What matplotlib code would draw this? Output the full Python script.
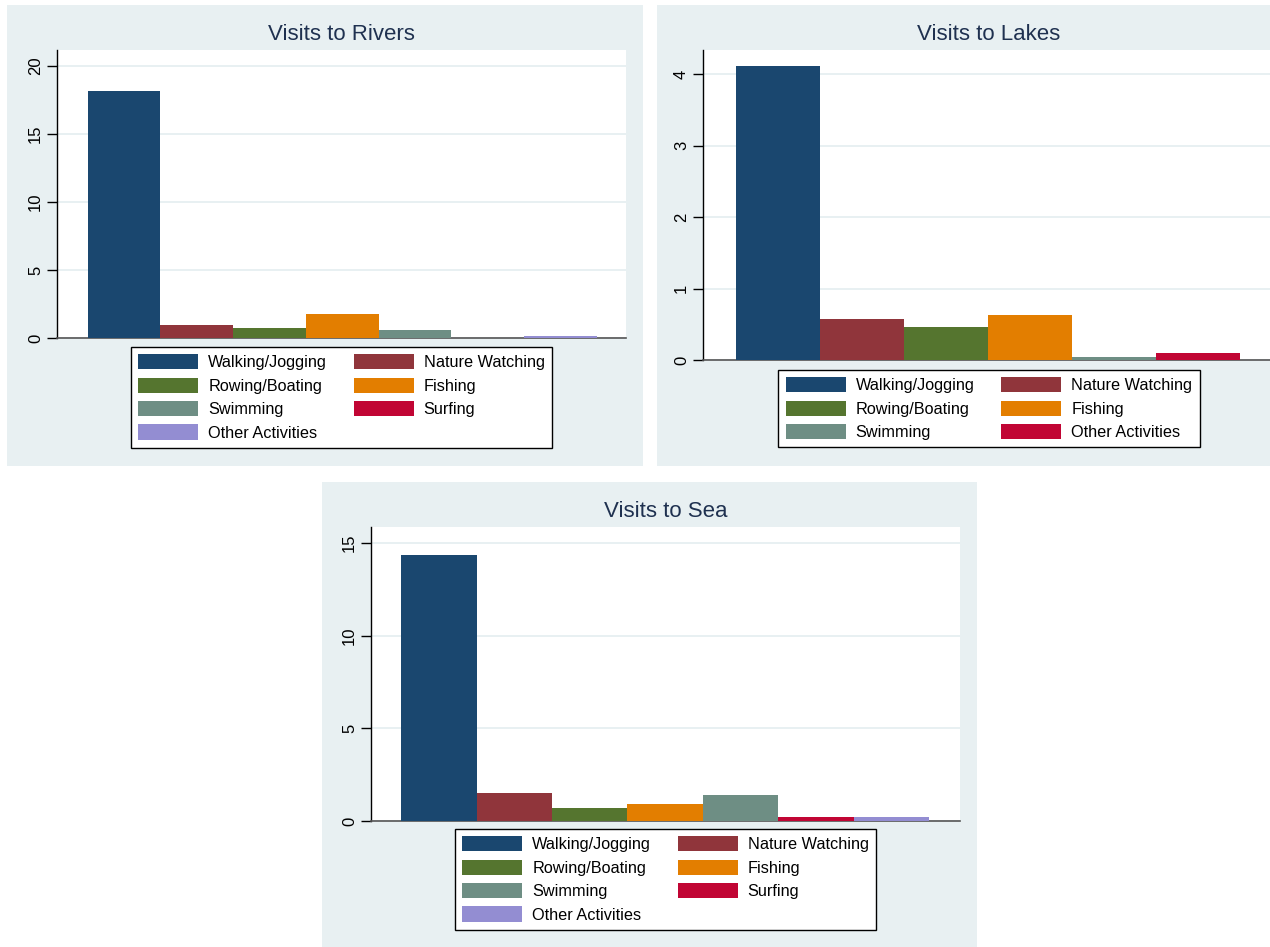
import numpy as np
from matplotlib import pyplot as plt
from matplotlib.patches import Rectangle, Patch

plt.rcParams['font.family'] = ['Liberation Sans', 'DejaVu Sans']

W, H = 1270, 947

river_labels = ["Walking/Jogging", "Nature Watching", "Rowing/Boating", "Fishing",
                "Swimming", "Surfing", "Other Activities"]
river_vals = [18.18, 0.95, 0.76, 1.74, 0.61, 0.02, 0.12]

lake_labels = ["Walking/Jogging", "Nature Watching", "Rowing/Boating", "Fishing",
               "Swimming", "Other Activities"]
lake_vals = [4.11, 0.57, 0.46, 0.63, 0.04, 0.10]

sea_labels = ["Walking/Jogging", "Nature Watching", "Rowing/Boating", "Fishing",
              "Swimming", "Surfing", "Other Activities"]
sea_vals = [14.35, 1.49, 0.70, 0.90, 1.40, 0.20, 0.20]

# stata s2color palette
colors = ["#1a476f", "#90353b", "#55752f", "#e37e00", "#6e8e84", "#c10534", "#938dd2"]

bg = "#e8f0f2"
grid = "#e4eef0"
title_col = "#1f3150"

fig = plt.figure(figsize=(W / 100, H / 100), dpi=100)
fig.patch.set_facecolor("white")


def panel(l, t, r, b):
    fig.patches.append(Rectangle((l / W, 1 - b / H), (r - l) / W, (b - t) / H,
                                 transform=fig.transFigure, facecolor=bg,
                                 edgecolor="none", zorder=-5))


def draw(title, labels, vals, box, ylim, yticks, gap, leg_top, title_y):
    l, t, r, b = box
    ax = fig.add_axes([l / W, 1 - b / H, (r - l) / W, (b - t) / H])
    n = len(vals)
    x = np.arange(n)
    cols = colors[:n - 1] + ([colors[6]] if n == 7 else [colors[5]])
    ax.bar(x, vals, width=1.0, color=cols, linewidth=0, zorder=3)
    ax.set_xlim(-0.5 - gap[0], n - 0.5 + gap[1])
    ax.set_ylim(0, ylim)
    ax.set_yticks(yticks)
    ax.set_xticks([])
    ax.yaxis.grid(True, color=grid, linewidth=1.2, zorder=0)
    for s in ["top", "right"]:
        ax.spines[s].set_visible(False)
    ax.spines["left"].set_color("black")
    ax.spines["left"].set_linewidth(1)
    ax.spines["bottom"].set_color("#555555")
    ax.spines["bottom"].set_linewidth(1.2)
    ax.tick_params(axis="y", length=7, width=1, labelsize=12, pad=3)
    plt.setp(ax.get_yticklabels(), rotation=90, va="center")
    fig.text((l + r) / 2 / W, 1 - title_y / H, title, ha="center", va="center",
             fontsize=16, color=title_col)

    # stata fills legend rows first, matplotlib columns first
    order = list(range(0, n, 2)) + list(range(1, n, 2))
    handles = [Patch(facecolor=cols[i], edgecolor="none") for i in order]
    leg = ax.legend(handles, [labels[i] for i in order], loc="upper center",
                    bbox_to_anchor=((l + r) / 2 / W, 1 - leg_top / H),
                    bbox_transform=fig.transFigure, ncol=2, frameon=True,
                    fancybox=False, edgecolor="black", facecolor="white",
                    framealpha=1, fontsize=11.7,
                    handlelength=3.7, handleheight=1.05, labelspacing=0.45,
                    columnspacing=1.65, handletextpad=0.6, borderpad=0.45,
                    borderaxespad=0)
    leg.get_frame().set_linewidth(1)
    return ax


panel(7, 5, 643, 466)
panel(657, 5, 1290, 466)
panel(322, 482, 977, 947)

draw("Visits to Rivers", river_labels, river_vals, (57, 50, 626, 338),
     21.18, [0, 5, 10, 15, 20], (0.42, 0.40), 347, 35)
draw("Visits to Lakes", lake_labels, lake_vals, (703, 50, 1275, 360),
     4.34, [0, 1, 2, 3, 4], (0.39, 0.42), 370, 35)
draw("Visits to Sea", sea_labels, sea_vals, (371, 527, 960, 821),
     15.87, [0, 5, 10, 15], (0.40, 0.41), 829, 511)

fig.savefig("out.png", dpi=100, facecolor="white")
